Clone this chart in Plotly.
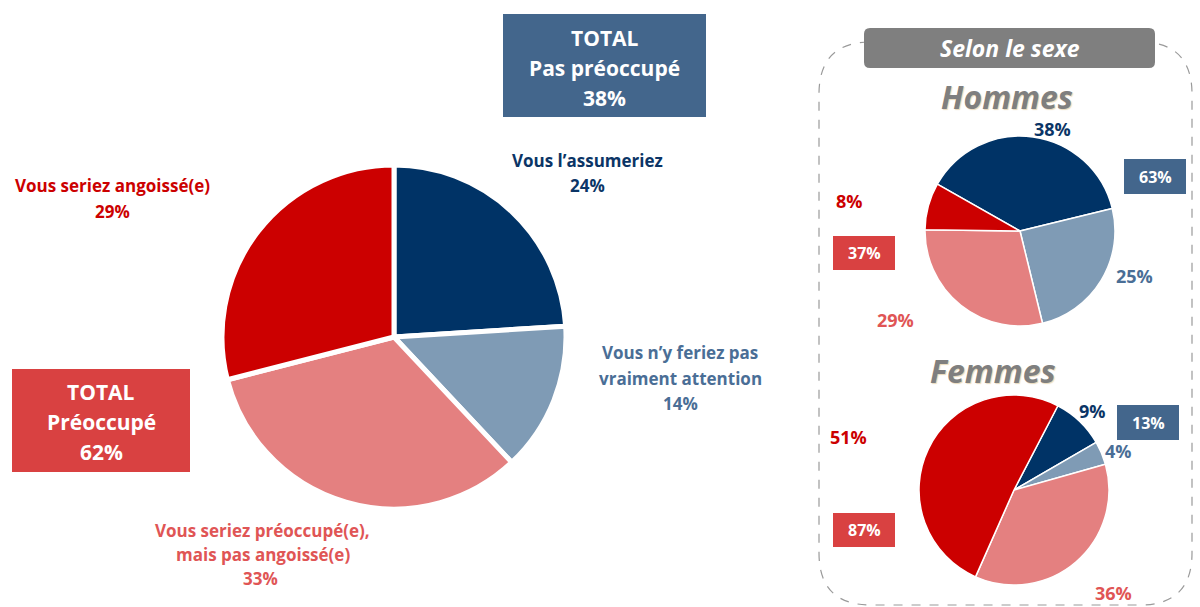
import plotly.graph_objects as go

W, H = 1200, 607

# ---------------- data ----------------
categories = ["Vous l’assumeriez",
              "Vous n’y feriez pas vraiment attention",
              "Vous seriez préoccupé(e), mais pas angoissé(e)",
              "Vous seriez angoissé(e)"]
main_values = [24, 14, 33, 29]
hommes_values = [38, 25, 29, 8]
femmes_values = [9, 4, 36, 51]
total_labels = ["Pas préoccupé", "Préoccupé"]
main_totals = [38, 62]
hommes_totals = [63, 37]
femmes_totals = [13, 87]
panel_title = "Selon le sexe"
group_names = ["Hommes", "Femmes"]

slice_colors = ["#003366", "#7f9bb5", "#e48080", "#cc0000"]
text_colors = ["#0b3566", "#4a6e96", "#e05555", "#cc0000"]
box_blue = "#43668c"
box_red = "#d94141"
grey = "#7f7f7f"
FONT = "Open Sans"


def dom(cx, cy, r):
    return dict(x=[(cx - r) / W, (cx + r) / W], y=[1 - (cy + r) / H, 1 - (cy - r) / H])


fig = go.Figure()
fig.add_trace(go.Pie(values=main_values, labels=categories, sort=False, direction="clockwise",
                     rotation=0, textinfo="none", hoverinfo="label+percent",
                     marker=dict(colors=slice_colors, line=dict(color="white", width=5)),
                     domain=dom(394, 337, 172), showlegend=False))
fig.add_trace(go.Pie(values=hommes_values, labels=categories, sort=False, direction="clockwise",
                     rotation=299.5, textinfo="none", hoverinfo="label+percent",
                     marker=dict(colors=slice_colors, line=dict(color="white", width=1.5)),
                     domain=dom(1020, 231, 95), showlegend=False))
fig.add_trace(go.Pie(values=femmes_values, labels=categories, sort=False, direction="clockwise",
                     rotation=27.5, textinfo="none", hoverinfo="label+percent",
                     marker=dict(colors=slice_colors, line=dict(color="white", width=1.5)),
                     domain=dom(1014, 490, 95), showlegend=False))

annotations = []
shapes = []


def txt(x, y, s, size, color, bold=True, italic=False, shadow=None):
    t = s
    if bold:
        t = "<b>" + t + "</b>"
    if italic:
        t = "<i>" + t + "</i>"
    f = dict(family=FONT, size=size, color=color)
    if shadow:
        f["shadow"] = shadow
    annotations.append(dict(x=x, y=y, xref="x", yref="y", text=t, showarrow=False,
                            xanchor="center", yanchor="middle", font=f))


def box(x0, y0, x1, y1, color):
    shapes.append(dict(type="rect", xref="x", yref="y", x0=x0, y0=y0, x1=x1, y1=y1,
                       fillcolor=color, line=dict(width=0), layer="above"))


def pct(v):
    return f"{v}%"


# dashed rounded panel
R = 52
x0, y0, x1, y1 = 819, 42, 1192, 605
path = (f"M {x0+R},{y0} L {x1-R},{y0} Q {x1},{y0} {x1},{y0+R} L {x1},{y1-R} "
        f"Q {x1},{y1} {x1-R},{y1} L {x0+R},{y1} Q {x0},{y1} {x0},{y1-R} "
        f"L {x0},{y0+R} Q {x0},{y0} {x0+R},{y0} Z")
shapes.append(dict(type="path", xref="x", yref="y", path=path,
                   line=dict(color="#9a9a9a", width=1.2, dash="dash"), layer="below"))
# header
r2 = 6
hx0, hy0, hx1, hy1 = 864, 28, 1155, 68
hpath = (f"M {hx0+r2},{hy0} L {hx1-r2},{hy0} Q {hx1},{hy0} {hx1},{hy0+r2} L {hx1},{hy1-r2} "
         f"Q {hx1},{hy1} {hx1-r2},{hy1} L {hx0+r2},{hy1} Q {hx0},{hy1} {hx0},{hy1-r2} "
         f"L {hx0},{hy0+r2} Q {hx0},{hy0} {hx0+r2},{hy0} Z")
shapes.append(dict(type="path", xref="x", yref="y", path=hpath, fillcolor=grey,
                   line=dict(width=0), layer="above"))
txt(1010, 48, panel_title, 23, "white", italic=True)

# main totals boxes
BS = 21
box(503, 14, 706, 117, box_blue)
txt(604.5, 38, "TOTAL", BS, "white")
txt(604.5, 68, total_labels[0], BS, "white")
txt(604.5, 98, pct(main_totals[0]), BS, "white")

box(12, 369, 190, 472, box_red)
txt(101, 392, "TOTAL", BS, "white")
txt(101, 422, total_labels[1], BS, "white")
txt(101, 452, pct(main_totals[1]), BS, "white")

# main pie labels
LS = 17
txt(587, 160, categories[0], LS, text_colors[0])
txt(587, 185, pct(main_values[0]), LS, text_colors[0])

txt(680, 352, "Vous n’y feriez pas", LS, text_colors[1])
txt(680, 378, "vraiment attention", LS, text_colors[1])
txt(680, 403, pct(main_values[1]), LS, text_colors[1])

txt(262, 530, "Vous seriez préoccupé(e),", LS, text_colors[2])
txt(263, 554, "mais pas angoissé(e)", LS, text_colors[2])
txt(260, 578, pct(main_values[2]), LS, text_colors[2])

txt(112, 185, categories[3], LS, text_colors[3])
txt(112, 211, pct(main_values[3]), LS, text_colors[3])

# Hommes
sh = "1px 1px 1px rgba(215,185,130,0.55)"
GS = 32
txt(1007, 96, group_names[0], GS, grey, italic=True, shadow=sh)
PS = 18
txt(1052, 129, pct(hommes_values[0]), PS, text_colors[0])
txt(1134, 276, pct(hommes_values[1]), PS, text_colors[1])
txt(895, 320, pct(hommes_values[2]), PS, text_colors[2])
txt(849, 201, pct(hommes_values[3]), PS, text_colors[3])
box(1124, 159, 1186, 194, box_blue)
txt(1155, 176.5, pct(hommes_totals[0]), 16, "white")
box(833, 236, 895, 270, box_red)
txt(864, 253, pct(hommes_totals[1]), 16, "white")

# Femmes
txt(993, 370, group_names[1], GS, grey, italic=True, shadow=sh)
txt(1092, 411, pct(femmes_values[0]), PS, text_colors[0])
txt(1118, 451, pct(femmes_values[1]), PS, text_colors[1])
txt(1113, 593, pct(femmes_values[2]), PS, text_colors[2])
txt(848, 437, pct(femmes_values[3]), PS, text_colors[3])
box(1117, 405, 1179, 440, box_blue)
txt(1148, 422.5, pct(femmes_totals[0]), 16, "white")
box(833, 513, 895, 547, box_red)
txt(864, 530, pct(femmes_totals[1]), 16, "white")

fig.update_layout(
    width=W, height=H, margin=dict(l=0, r=0, t=0, b=0),
    paper_bgcolor="white", plot_bgcolor="rgba(0,0,0,0)",
    xaxis=dict(range=[0, W], visible=False, fixedrange=True),
    yaxis=dict(range=[H, 0], visible=False, fixedrange=True),
    annotations=annotations, shapes=shapes, showlegend=False,
)
fig.write_html("out.html", config={"displayModeBar": False},
               post_script="document.body.style.margin='0';")
